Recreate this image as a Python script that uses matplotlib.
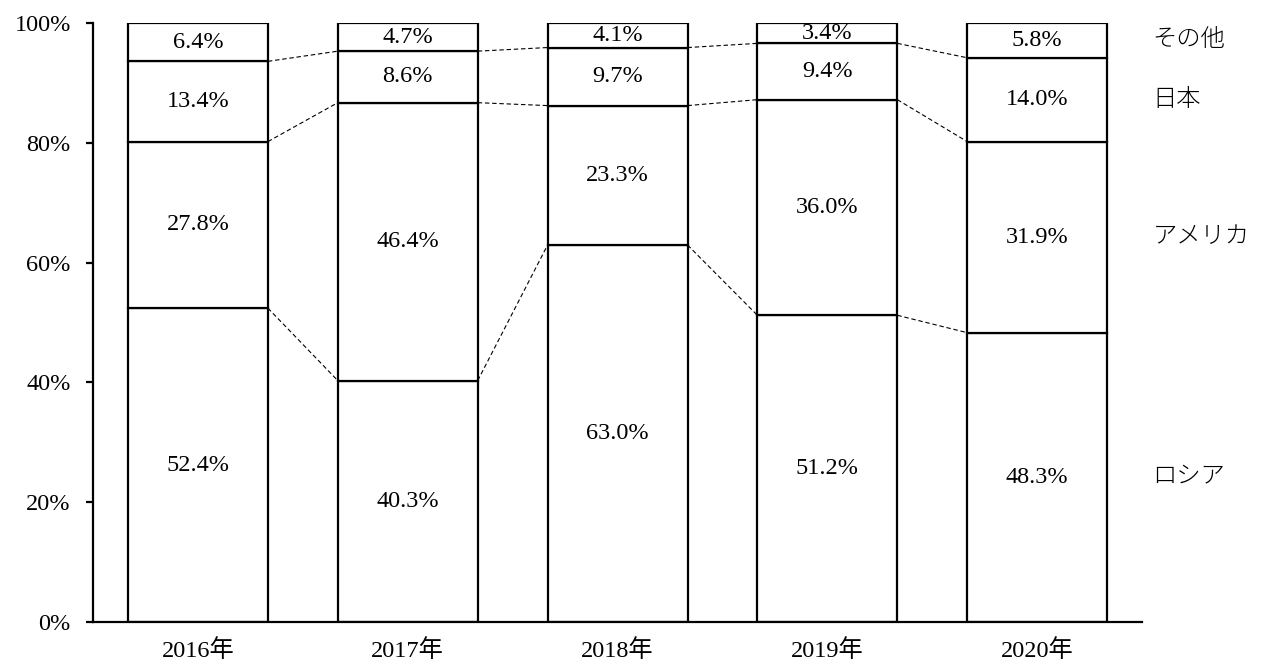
import matplotlib
matplotlib.use("Agg")
import matplotlib.pyplot as plt
import numpy as np

plt.rcParams["font.family"] = ["Liberation Serif", "Noto Sans CJK JP", "DejaVu Sans"]

years = ["2016年", "2017年", "2018年", "2019年", "2020年"]
countries = ["ロシア", "アメリカ", "日本", "その他"]
russia = [52.4, 40.3, 63.0, 51.2, 48.3]
america = [27.8, 46.4, 23.3, 36.0, 31.9]
japan = [13.4, 8.6, 9.7, 9.4, 14.0]
other = [6.4, 4.7, 4.1, 3.4, 5.8]

series = [russia, america, japan, other]
FS = 17.5
BW = 0.667

fig = plt.figure(figsize=(12.69, 6.65), dpi=100)
fig.patch.set_facecolor("white")
ax = fig.add_axes([0.0733, 0.0647, 0.8267, 0.9007])

x = np.arange(len(years))
vals = np.array(series)
# normalise to 100% like the original stacked chart
shares = vals / vals.sum(axis=0) * 100
bottoms = np.zeros(len(years))
tops = []
for s in shares:
    ax.bar(x, s, BW, bottom=bottoms, color="white", edgecolor="black", linewidth=1.6, zorder=2)
    tops.append(bottoms + s)
    bottoms = bottoms + s

# value labels in segment centres
bottoms = np.zeros(len(years))
for raw, s in zip(vals, shares):
    for i in range(len(years)):
        ax.text(x[i], bottoms[i] + s[i] / 2, f"{raw[i]:.1f}%", ha="center", va="center", fontsize=FS, zorder=3)
    bottoms = bottoms + s

# dashed connectors between bars at the segment boundaries
for t in tops[:-1]:
    for i in range(len(years) - 1):
        ax.plot([x[i] + BW / 2, x[i + 1] - BW / 2], [t[i], t[i + 1]], color="black",
                lw=0.8, ls=(0, (4, 2.5)), zorder=1)

# category names to the right of the last bar
bottoms = np.zeros(len(years))
for name, s in zip(countries, shares):
    ax.text(x[-1] + 0.55, bottoms[-1] + s[-1] / 2, name, ha="left", va="center",
            fontsize=FS, fontweight="light", clip_on=False)
    bottoms = bottoms + s

ax.set_xlim(-0.5, len(years) - 0.5)
ax.set_ylim(0, 100)
ax.set_yticks(np.arange(0, 101, 20))
ax.set_yticklabels([f"{v}%" for v in range(0, 101, 20)], fontsize=FS)
ax.set_xticks(x)
ax.set_xticklabels(years, fontsize=FS)
ax.tick_params(axis="y", direction="out", length=5, width=1.6, pad=11)
ax.tick_params(axis="x", length=0, pad=12)
for sp in ["top", "right"]:
    ax.spines[sp].set_visible(False)
for sp in ["left", "bottom"]:
    ax.spines[sp].set_linewidth(1.6)

fig.savefig("out.png", facecolor="white")
